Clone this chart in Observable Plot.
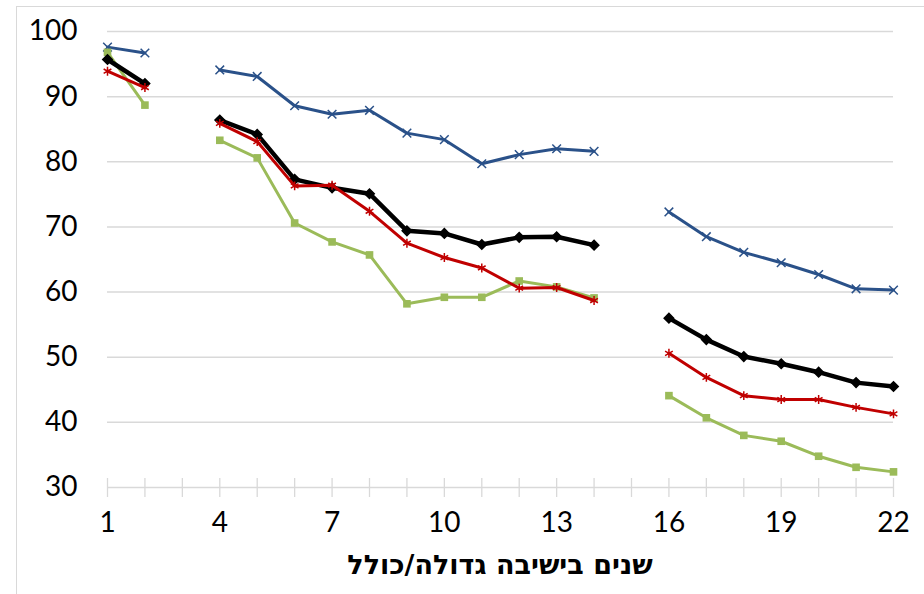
<!DOCTYPE html>
<html>
<head>
<meta charset="utf-8">
<script src="https://cdn.jsdelivr.net/npm/d3@7"></script>
<script src="https://cdn.jsdelivr.net/npm/@observablehq/plot@0.6"></script>
<style>
  html, body { margin: 0; padding: 0; background: #ffffff; }
  #wrap { position: relative; width: 924px; height: 594px; overflow: hidden; background: #fff; }
  #frame { position: absolute; left: 16px; top: 6px; width: 910px; height: 600px; border: 1px solid #d9d9d9; box-sizing: border-box; }
  #chart { position: absolute; left: 0; top: 0; }
  #xtitle { position: absolute; left: 107px; top: 540px; width: 786px; height: 54px; text-align: center; direction: rtl;
            font-family: "DejaVu Sans", "Liberation Sans", sans-serif; font-weight: bold; font-size: 27px; line-height: 50px; color: #000; }
</style>
</head>
<body>
<div id="wrap">
  <div id="frame"></div>
  <div id="chart"></div>
  <div id="xtitle">שנים בישיבה גדולה/כולל</div>
</div>
<script>
// Years in yeshiva gdola / kollel (3 and 15 have no data)
const years = [1, 2, 3, 4, 5, 6, 7, 8, 9, 10, 11, 12, 13, 14, 15, 16, 17, 18, 19, 20, 21, 22];
const blueSeries  = [97.6, 96.7, null, 94.1, 93.1, 88.6, 87.3, 87.9, 84.4, 83.4, 79.7, 81.1, 82.0, 81.6, null, 72.3, 68.5, 66.1, 64.5, 62.7, 60.5, 60.3];
const blackSeries = [95.7, 92.0, null, 86.4, 84.2, 77.3, 76.0, 75.1, 69.4, 69.0, 67.3, 68.4, 68.5, 67.2, null, 56.0, 52.7, 50.1, 49.0, 47.7, 46.1, 45.5];
const redSeries   = [93.9, 91.4, null, 85.9, 83.1, 76.3, 76.4, 72.4, 67.5, 65.3, 63.7, 60.6, 60.7, 58.7, null, 50.6, 46.9, 44.1, 43.5, 43.5, 42.3, 41.3];
const greenSeries = [96.8, 88.7, null, 83.3, 80.6, 70.6, 67.7, 65.7, 58.2, 59.2, 59.2, 61.7, 60.8, 59.1, null, 44.1, 40.7, 38.0, 37.1, 34.8, 33.1, 32.4];
const xTickLabels = [1, 4, 7, 10, 13, 16, 19, 22];
const yTickLabels = [30, 40, 50, 60, 70, 80, 90, 100];
const yGrid = [40, 50, 60, 70, 80, 90, 100];

const toRows = (vals) => years.map((x, i) => ({x, y: vals[i]}));
const blueRows = toRows(blueSeries);
const blackRows = toRows(blackSeries);
const redRows = toRows(redSeries);
const greenRows = toRows(greenSeries);
const dotRows = (rows) => rows.filter(d => d.y != null);

const BLUE = "#2a5189", RED = "#c00000", GREEN = "#9bbb59", BLACK = "#000000", GRID = "#d9d9d9";

const chart = Plot.plot({
  width: 924,
  height: 540,
  marginTop: 31,
  marginBottom: 53,
  marginLeft: 107,
  marginRight: 31,
  x: {type: "linear", domain: [1, 22]},
  y: {type: "linear", domain: [30, 100]},
  style: {fontFamily: "Lato, 'Open Sans', sans-serif", fontSize: "28px", color: "#000", background: "transparent", overflow: "visible"},
  marks: [
    Plot.ruleY(yGrid, {stroke: GRID, strokeWidth: 1.5}),
    Plot.ruleY([30], {stroke: GRID, strokeWidth: 1.5}),
    Plot.ruleX(years, {x: d => d, stroke: GRID, strokeWidth: 1.3, insetTop: 447, insetBottom: -10}),
    Plot.axisY({ticks: yTickLabels, tickSize: 0, tickPadding: 30, label: null, fontSize: 28}),
    Plot.axisX({ticks: xTickLabels, tickSize: 0, tickPadding: 25, label: null, fontSize: 28}),
    // blue series
    Plot.line(blueRows, {x: "x", y: "y", stroke: BLUE, strokeWidth: 3}),
    Plot.dot(dotRows(blueRows), {x: "x", y: "y", symbol: "times", r: 4, stroke: BLUE, strokeWidth: 1.5}),
    // green series
    Plot.line(greenRows, {x: "x", y: "y", stroke: GREEN, strokeWidth: 3}),
    Plot.dot(dotRows(greenRows), {x: "x", y: "y", symbol: "square", r: 4.3, fill: GREEN}),
    // black series
    Plot.line(blackRows, {x: "x", y: "y", stroke: BLACK, strokeWidth: 4.5}),
    Plot.dot(dotRows(blackRows), {x: "x", y: "y", symbol: "square", rotate: 45, r: 3.8, fill: BLACK, stroke: BLACK, strokeWidth: 1.5}),
    // red series
    Plot.line(redRows, {x: "x", y: "y", stroke: RED, strokeWidth: 3}),
    Plot.dot(dotRows(redRows), {x: "x", y: "y", symbol: "asterisk", r: 4.2, stroke: RED, strokeWidth: 1.5})
  ]
});
document.getElementById("chart").appendChild(chart);
</script>
</body>
</html>
